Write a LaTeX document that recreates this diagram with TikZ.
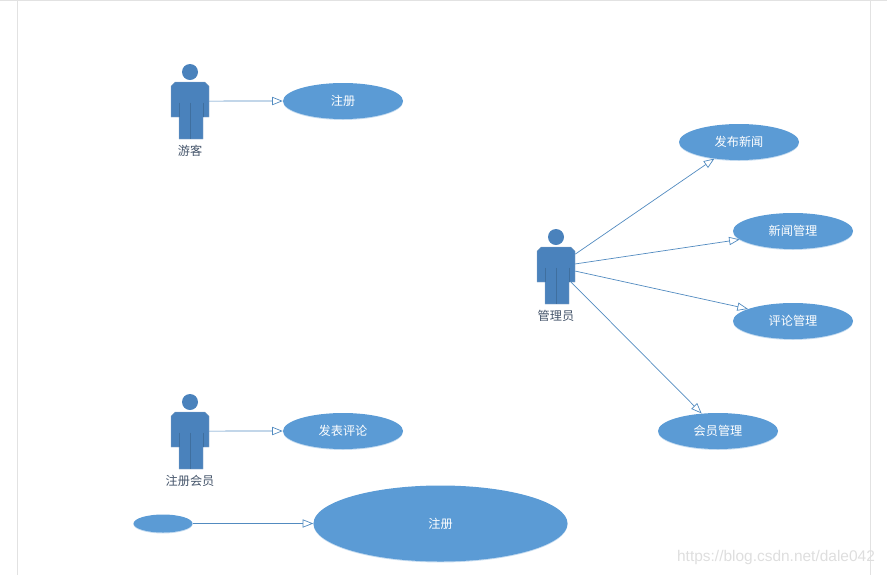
\documentclass[tikz,border=0pt]{standalone}
\usepackage{fontspec}
\setmainfont{Noto Sans CJK SC}
\newfontfamily\markfont{Liberation Sans}
\usetikzlibrary{positioning, arrows.meta, shapes.geometric, shadows}
\definecolor{caseblue}{HTML}{5B9BD5}
\definecolor{actorblue}{HTML}{4A82BC}
\definecolor{actoredge}{HTML}{3F6F9F}
\definecolor{labeldark}{HTML}{44546A}
\definecolor{pageline}{HTML}{E2E2E2}

\begin{document}
\begin{tikzpicture}[
  x=0.03cm, y=-0.03cm,
  usecase/.style={
    ellipse, fill=caseblue, inner sep=0pt,
    minimum width=3.6cm, minimum height=1.08cm,
    font=\fontsize{10.4pt}{12pt}\selectfont, text=white,
    drop shadow={shadow xshift=0pt, shadow yshift=-0.8pt, fill=caseblue!60, opacity=0.6}
  },
  actorlabel/.style={font=\fontsize{10.4pt}{12pt}\selectfont, text=labeldark},
  assoc/.style={-{Triangle[open, fill=white, length=9pt, width=7pt]}, line width=0.6pt, caseblue!90!black},
  actor/.pic={
    \fill[actorblue] (0,-38.5) circle (8);
    \fill[actorblue, draw=actoredge!60, line width=0.3pt]
      (-15,-28.5) -- (15,-28.5) -- (19,-24.5) -- (19,6.5) -- (13,6.5) -- (13,28.5)
      -- (-11,28.5) -- (-11,6.5) -- (-19,6.5) -- (-19,-24.5) -- cycle;
    \draw[actoredge, line width=0.3pt] (0,-8) -- (0,28.5);
    \draw[actoredge, line width=0.3pt] (-11,-8) -- (-11,6.5);
    \draw[actoredge, line width=0.3pt] (13,-8) -- (13,6.5);
    \node[minimum width=1.14cm, minimum height=1.71cm, inner sep=0pt] (box) at (0,0) {};
  }
]
\useasboundingbox (0,0) rectangle (887,575);

% ---- page edges ----
\draw[pageline, line width=0.8pt] (0,0.5) -- (887,0.5);
\draw[pageline, line width=0.8pt] (17.5,0) -- (17.5,575);
\draw[pageline, line width=0.8pt] (870.5,0) -- (870.5,575);

% ---- actors ----
\pic (visitor) at (190,110.5) {actor};
\pic (member)  at (190,440.5) {actor};
\pic (admin)   at (556,275.5) {actor};
\node[actorlabel] (visitorname) at (190,151) {游客};
\node[actorlabel] (membername)  at (190,481) {注册会员};
\node[actorlabel] (adminname)   at (556,316) {管理员};

% ---- use cases ----
\node[usecase] (signup)  at (343,101) {注册};
\node[usecase] (comment) at (343,431) {发表评论};
\node[usecase] (publish) at (739,142) {发布新闻};
\node[usecase] (newsmgr) at (793,231) {新闻管理};
\node[usecase] (commmgr) at (793,321) {评论管理};
\node[usecase] (membmgr) at (718,431) {会员管理};

% ---- legend ----
\node[usecase, minimum width=1.77cm, minimum height=0.54cm] (smallcase) at (163,523.5) {};
\node[usecase, minimum width=7.62cm, minimum height=2.28cm] (bigcase) at (440.5,523.5) {注册};

% ---- associations ----
\coordinate (adminhip) at (571,282);
\draw[assoc] (visitorbox.26.6) -- (signup.west);
\draw[assoc] (memberbox.26.6) -- (comment.west);
\draw[assoc] (adminbox.48.5) -- (publish.214);
\draw[assoc] (adminbox.31) -- (newsmgr.189.6);
\draw[assoc] (adminbox.13.3) -- (commmgr.165);
\draw[assoc] (adminhip) -- (membmgr.133);
\draw[assoc] (smallcase.east) -- (bigcase.west);

% ---- watermark ----
\node[font=\markfont\fontsize{13.2pt}{15pt}\selectfont, text=black!13] (blogmark) at (776,557) {https://blog.csdn.net/dale042};
\end{tikzpicture}
\end{document}
